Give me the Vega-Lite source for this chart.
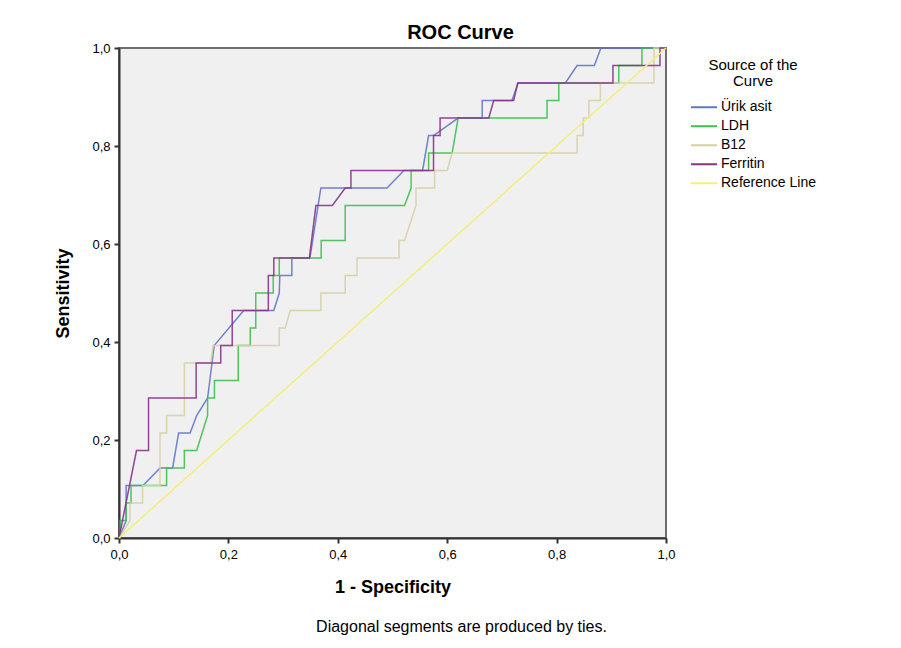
{
  "$schema": "https://vega.github.io/schema/vega-lite/v6.json",
  "width": 547,
  "height": 490,
  "autosize": {"type": "none"},
  "padding": {"left": 119, "top": 48, "right": 235, "bottom": 110},
  "background": "white",
  "config": {
    "font": "Liberation Sans",
    "view": {"fill": "#f0f0f0", "stroke": "#6e6e6e", "strokeWidth": 2}
  },
  "title": {
    "text": "ROC Curve",
    "fontSize": 20,
    "fontWeight": "bold",
    "color": "#000000",
    "anchor": "middle",
    "dx": 68,
    "offset": -1
  },
  "data": {
    "values": [
      {"curve": "Ürik asit", "i": 0, "fpr": 0, "tpr": 0},
      {"curve": "Ürik asit", "i": 1, "fpr": 0.013, "tpr": 0.0357},
      {"curve": "Ürik asit", "i": 2, "fpr": 0.013, "tpr": 0.1071},
      {"curve": "Ürik asit", "i": 3, "fpr": 0.044, "tpr": 0.1071},
      {"curve": "Ürik asit", "i": 4, "fpr": 0.075, "tpr": 0.1429},
      {"curve": "Ürik asit", "i": 5, "fpr": 0.098, "tpr": 0.1429},
      {"curve": "Ürik asit", "i": 6, "fpr": 0.109, "tpr": 0.2143},
      {"curve": "Ürik asit", "i": 7, "fpr": 0.130, "tpr": 0.2143},
      {"curve": "Ürik asit", "i": 8, "fpr": 0.142, "tpr": 0.25},
      {"curve": "Ürik asit", "i": 9, "fpr": 0.162, "tpr": 0.2857},
      {"curve": "Ürik asit", "i": 10, "fpr": 0.166, "tpr": 0.3214},
      {"curve": "Ürik asit", "i": 11, "fpr": 0.174, "tpr": 0.3929},
      {"curve": "Ürik asit", "i": 12, "fpr": 0.228, "tpr": 0.4643},
      {"curve": "Ürik asit", "i": 13, "fpr": 0.283, "tpr": 0.4643},
      {"curve": "Ürik asit", "i": 14, "fpr": 0.293, "tpr": 0.5},
      {"curve": "Ürik asit", "i": 15, "fpr": 0.294, "tpr": 0.5357},
      {"curve": "Ürik asit", "i": 16, "fpr": 0.316, "tpr": 0.5357},
      {"curve": "Ürik asit", "i": 17, "fpr": 0.316, "tpr": 0.5714},
      {"curve": "Ürik asit", "i": 18, "fpr": 0.349, "tpr": 0.5714},
      {"curve": "Ürik asit", "i": 19, "fpr": 0.369, "tpr": 0.7143},
      {"curve": "Ürik asit", "i": 20, "fpr": 0.49, "tpr": 0.7143},
      {"curve": "Ürik asit", "i": 21, "fpr": 0.521, "tpr": 0.75},
      {"curve": "Ürik asit", "i": 22, "fpr": 0.555, "tpr": 0.75},
      {"curve": "Ürik asit", "i": 23, "fpr": 0.566, "tpr": 0.8214},
      {"curve": "Ürik asit", "i": 24, "fpr": 0.575, "tpr": 0.8214},
      {"curve": "Ürik asit", "i": 25, "fpr": 0.62, "tpr": 0.8571},
      {"curve": "Ürik asit", "i": 26, "fpr": 0.664, "tpr": 0.8571},
      {"curve": "Ürik asit", "i": 27, "fpr": 0.664, "tpr": 0.8929},
      {"curve": "Ürik asit", "i": 28, "fpr": 0.7185, "tpr": 0.8929},
      {"curve": "Ürik asit", "i": 29, "fpr": 0.7295, "tpr": 0.9286},
      {"curve": "Ürik asit", "i": 30, "fpr": 0.816, "tpr": 0.9286},
      {"curve": "Ürik asit", "i": 31, "fpr": 0.8375, "tpr": 0.9643},
      {"curve": "Ürik asit", "i": 32, "fpr": 0.869, "tpr": 0.9643},
      {"curve": "Ürik asit", "i": 33, "fpr": 0.881, "tpr": 1},
      {"curve": "Ürik asit", "i": 34, "fpr": 1, "tpr": 1},

      {"curve": "LDH", "i": 0, "fpr": 0, "tpr": 0},
      {"curve": "LDH", "i": 1, "fpr": 0.002, "tpr": 0},
      {"curve": "LDH", "i": 2, "fpr": 0.002, "tpr": 0.0357},
      {"curve": "LDH", "i": 3, "fpr": 0.013, "tpr": 0.0357},
      {"curve": "LDH", "i": 4, "fpr": 0.013, "tpr": 0.0714},
      {"curve": "LDH", "i": 5, "fpr": 0.022, "tpr": 0.0714},
      {"curve": "LDH", "i": 6, "fpr": 0.022, "tpr": 0.1071},
      {"curve": "LDH", "i": 7, "fpr": 0.087, "tpr": 0.1071},
      {"curve": "LDH", "i": 8, "fpr": 0.087, "tpr": 0.1429},
      {"curve": "LDH", "i": 9, "fpr": 0.1195, "tpr": 0.1429},
      {"curve": "LDH", "i": 10, "fpr": 0.1195, "tpr": 0.1786},
      {"curve": "LDH", "i": 11, "fpr": 0.142, "tpr": 0.1786},
      {"curve": "LDH", "i": 12, "fpr": 0.162, "tpr": 0.25},
      {"curve": "LDH", "i": 13, "fpr": 0.162, "tpr": 0.2857},
      {"curve": "LDH", "i": 14, "fpr": 0.1745, "tpr": 0.2857},
      {"curve": "LDH", "i": 15, "fpr": 0.1745, "tpr": 0.3214},
      {"curve": "LDH", "i": 16, "fpr": 0.218, "tpr": 0.3214},
      {"curve": "LDH", "i": 17, "fpr": 0.218, "tpr": 0.3929},
      {"curve": "LDH", "i": 18, "fpr": 0.24, "tpr": 0.3929},
      {"curve": "LDH", "i": 19, "fpr": 0.24, "tpr": 0.4286},
      {"curve": "LDH", "i": 20, "fpr": 0.25, "tpr": 0.4286},
      {"curve": "LDH", "i": 21, "fpr": 0.25, "tpr": 0.5},
      {"curve": "LDH", "i": 22, "fpr": 0.282, "tpr": 0.5},
      {"curve": "LDH", "i": 23, "fpr": 0.282, "tpr": 0.5357},
      {"curve": "LDH", "i": 24, "fpr": 0.293, "tpr": 0.5357},
      {"curve": "LDH", "i": 25, "fpr": 0.293, "tpr": 0.5714},
      {"curve": "LDH", "i": 26, "fpr": 0.3696, "tpr": 0.5714},
      {"curve": "LDH", "i": 27, "fpr": 0.3696, "tpr": 0.6071},
      {"curve": "LDH", "i": 28, "fpr": 0.4135, "tpr": 0.6071},
      {"curve": "LDH", "i": 29, "fpr": 0.4135, "tpr": 0.6786},
      {"curve": "LDH", "i": 30, "fpr": 0.522, "tpr": 0.6786},
      {"curve": "LDH", "i": 31, "fpr": 0.534, "tpr": 0.7143},
      {"curve": "LDH", "i": 32, "fpr": 0.534, "tpr": 0.75},
      {"curve": "LDH", "i": 33, "fpr": 0.566, "tpr": 0.75},
      {"curve": "LDH", "i": 34, "fpr": 0.566, "tpr": 0.7857},
      {"curve": "LDH", "i": 35, "fpr": 0.609, "tpr": 0.7857},
      {"curve": "LDH", "i": 36, "fpr": 0.62, "tpr": 0.8571},
      {"curve": "LDH", "i": 37, "fpr": 0.7825, "tpr": 0.8571},
      {"curve": "LDH", "i": 38, "fpr": 0.7825, "tpr": 0.8929},
      {"curve": "LDH", "i": 39, "fpr": 0.804, "tpr": 0.8929},
      {"curve": "LDH", "i": 40, "fpr": 0.804, "tpr": 0.9286},
      {"curve": "LDH", "i": 41, "fpr": 0.9137, "tpr": 0.9286},
      {"curve": "LDH", "i": 42, "fpr": 0.9137, "tpr": 0.9643},
      {"curve": "LDH", "i": 43, "fpr": 0.956, "tpr": 0.9643},
      {"curve": "LDH", "i": 44, "fpr": 0.956, "tpr": 1},
      {"curve": "LDH", "i": 45, "fpr": 1, "tpr": 1},

      {"curve": "B12", "i": 0, "fpr": 0, "tpr": 0},
      {"curve": "B12", "i": 1, "fpr": 0.02, "tpr": 0.0357},
      {"curve": "B12", "i": 2, "fpr": 0.02, "tpr": 0.0714},
      {"curve": "B12", "i": 3, "fpr": 0.043, "tpr": 0.0714},
      {"curve": "B12", "i": 4, "fpr": 0.043, "tpr": 0.1071},
      {"curve": "B12", "i": 5, "fpr": 0.075, "tpr": 0.1071},
      {"curve": "B12", "i": 6, "fpr": 0.075, "tpr": 0.2143},
      {"curve": "B12", "i": 7, "fpr": 0.087, "tpr": 0.2143},
      {"curve": "B12", "i": 8, "fpr": 0.087, "tpr": 0.25},
      {"curve": "B12", "i": 9, "fpr": 0.1195, "tpr": 0.25},
      {"curve": "B12", "i": 10, "fpr": 0.1195, "tpr": 0.3571},
      {"curve": "B12", "i": 11, "fpr": 0.168, "tpr": 0.3571},
      {"curve": "B12", "i": 12, "fpr": 0.172, "tpr": 0.3929},
      {"curve": "B12", "i": 13, "fpr": 0.293, "tpr": 0.3929},
      {"curve": "B12", "i": 14, "fpr": 0.293, "tpr": 0.4286},
      {"curve": "B12", "i": 15, "fpr": 0.304, "tpr": 0.4286},
      {"curve": "B12", "i": 16, "fpr": 0.313, "tpr": 0.4643},
      {"curve": "B12", "i": 17, "fpr": 0.369, "tpr": 0.4643},
      {"curve": "B12", "i": 18, "fpr": 0.369, "tpr": 0.5},
      {"curve": "B12", "i": 19, "fpr": 0.4135, "tpr": 0.5},
      {"curve": "B12", "i": 20, "fpr": 0.4135, "tpr": 0.5357},
      {"curve": "B12", "i": 21, "fpr": 0.435, "tpr": 0.5357},
      {"curve": "B12", "i": 22, "fpr": 0.435, "tpr": 0.5714},
      {"curve": "B12", "i": 23, "fpr": 0.512, "tpr": 0.5714},
      {"curve": "B12", "i": 24, "fpr": 0.512, "tpr": 0.6071},
      {"curve": "B12", "i": 25, "fpr": 0.522, "tpr": 0.6071},
      {"curve": "B12", "i": 26, "fpr": 0.543, "tpr": 0.6786},
      {"curve": "B12", "i": 27, "fpr": 0.543, "tpr": 0.7143},
      {"curve": "B12", "i": 28, "fpr": 0.577, "tpr": 0.7143},
      {"curve": "B12", "i": 29, "fpr": 0.577, "tpr": 0.75},
      {"curve": "B12", "i": 30, "fpr": 0.6, "tpr": 0.75},
      {"curve": "B12", "i": 31, "fpr": 0.609, "tpr": 0.7857},
      {"curve": "B12", "i": 32, "fpr": 0.8375, "tpr": 0.7857},
      {"curve": "B12", "i": 33, "fpr": 0.8375, "tpr": 0.8214},
      {"curve": "B12", "i": 34, "fpr": 0.8485, "tpr": 0.8214},
      {"curve": "B12", "i": 35, "fpr": 0.8485, "tpr": 0.8571},
      {"curve": "B12", "i": 36, "fpr": 0.859, "tpr": 0.8571},
      {"curve": "B12", "i": 37, "fpr": 0.859, "tpr": 0.8929},
      {"curve": "B12", "i": 38, "fpr": 0.88, "tpr": 0.8929},
      {"curve": "B12", "i": 39, "fpr": 0.88, "tpr": 0.9286},
      {"curve": "B12", "i": 40, "fpr": 0.978, "tpr": 0.9286},
      {"curve": "B12", "i": 41, "fpr": 0.978, "tpr": 1},
      {"curve": "B12", "i": 42, "fpr": 1, "tpr": 1},

      {"curve": "Ferritin", "i": 0, "fpr": 0, "tpr": 0},
      {"curve": "Ferritin", "i": 1, "fpr": 0.032, "tpr": 0.1786},
      {"curve": "Ferritin", "i": 2, "fpr": 0.054, "tpr": 0.1786},
      {"curve": "Ferritin", "i": 3, "fpr": 0.054, "tpr": 0.2857},
      {"curve": "Ferritin", "i": 4, "fpr": 0.141, "tpr": 0.2857},
      {"curve": "Ferritin", "i": 5, "fpr": 0.141, "tpr": 0.3571},
      {"curve": "Ferritin", "i": 6, "fpr": 0.186, "tpr": 0.3571},
      {"curve": "Ferritin", "i": 7, "fpr": 0.186, "tpr": 0.3929},
      {"curve": "Ferritin", "i": 8, "fpr": 0.207, "tpr": 0.3929},
      {"curve": "Ferritin", "i": 9, "fpr": 0.207, "tpr": 0.4643},
      {"curve": "Ferritin", "i": 10, "fpr": 0.273, "tpr": 0.4643},
      {"curve": "Ferritin", "i": 11, "fpr": 0.273, "tpr": 0.5357},
      {"curve": "Ferritin", "i": 12, "fpr": 0.283, "tpr": 0.5357},
      {"curve": "Ferritin", "i": 13, "fpr": 0.283, "tpr": 0.5714},
      {"curve": "Ferritin", "i": 14, "fpr": 0.348, "tpr": 0.5714},
      {"curve": "Ferritin", "i": 15, "fpr": 0.36, "tpr": 0.6786},
      {"curve": "Ferritin", "i": 16, "fpr": 0.39, "tpr": 0.6786},
      {"curve": "Ferritin", "i": 17, "fpr": 0.4135, "tpr": 0.7143},
      {"curve": "Ferritin", "i": 18, "fpr": 0.424, "tpr": 0.7143},
      {"curve": "Ferritin", "i": 19, "fpr": 0.424, "tpr": 0.75},
      {"curve": "Ferritin", "i": 20, "fpr": 0.575, "tpr": 0.75},
      {"curve": "Ferritin", "i": 21, "fpr": 0.575, "tpr": 0.8214},
      {"curve": "Ferritin", "i": 22, "fpr": 0.587, "tpr": 0.8214},
      {"curve": "Ferritin", "i": 23, "fpr": 0.587, "tpr": 0.8571},
      {"curve": "Ferritin", "i": 24, "fpr": 0.676, "tpr": 0.8571},
      {"curve": "Ferritin", "i": 25, "fpr": 0.685, "tpr": 0.8929},
      {"curve": "Ferritin", "i": 26, "fpr": 0.7215, "tpr": 0.8929},
      {"curve": "Ferritin", "i": 27, "fpr": 0.729, "tpr": 0.9286},
      {"curve": "Ferritin", "i": 28, "fpr": 0.903, "tpr": 0.9286},
      {"curve": "Ferritin", "i": 29, "fpr": 0.903, "tpr": 0.9643},
      {"curve": "Ferritin", "i": 30, "fpr": 0.989, "tpr": 0.9643},
      {"curve": "Ferritin", "i": 31, "fpr": 0.989, "tpr": 1},
      {"curve": "Ferritin", "i": 32, "fpr": 1, "tpr": 1},

      {"curve": "Reference Line", "i": 0, "fpr": 0, "tpr": 0},
      {"curve": "Reference Line", "i": 1, "fpr": 1, "tpr": 1}
    ]
  },
  "encoding": {
    "y": {
      "field": "tpr",
      "type": "quantitative",
      "scale": {"domain": [0, 1], "nice": false},
      "axis": {
        "values": [0, 0.2, 0.4, 0.6, 0.8, 1],
        "labelExpr": "replace(format(datum.value, '.1f'), '.', ',')",
        "labelFlush": false,
        "title": "Sensitivity",
        "titleFontSize": 18,
        "titleFontWeight": "bold",
        "titleColor": "#000000",
        "titlePadding": 19,
        "labelFontSize": 13,
        "labelColor": "#000000",
        "labelPadding": 4,
        "tickSize": 5,
        "tickWidth": 2,
        "tickColor": "#333333",
        "domainColor": "#333333",
        "domainWidth": 2,
        "grid": false
      }
    },
    "color": {
      "field": "curve",
      "type": "nominal",
      "scale": {
        "domain": ["Ürik asit", "LDH", "B12", "Ferritin", "Reference Line"],
        "range": ["#6276c6", "#3dbf4e", "#d6d0a4", "#86338a", "#f4ef78"]
      },
      "legend": {
        "title": ["Source of the", "Curve"],
        "orient": "none",
        "legendX": 571,
        "legendY": 10,
        "padding": 0,
        "symbolType": "stroke",
        "symbolSize": 676,
        "symbolStrokeWidth": 2,
        "labelFontSize": 14,
        "labelColor": "#000000",
        "labelOffset": 3,
        "clipHeight": 18.5,
        "rowPadding": 0,
        "titleFontSize": 15,
        "titleFontWeight": "normal",
        "titleColor": "#000000",
        "titleAnchor": "middle",
        "titleAlign": "center",
        "titleLineHeight": 16,
        "titlePadding": 9
      }
    },
    "order": {"field": "i", "type": "quantitative"}
  },
  "layer": [
    {
      "transform": [{"filter": "datum.curve !== 'Reference Line'"}],
      "mark": {"type": "line", "strokeWidth": 1.5, "strokeOpacity": 0.9},
      "encoding": {
        "x": {
          "field": "fpr",
          "type": "quantitative",
          "scale": {"domain": [0, 1], "nice": false},
          "axis": {
            "values": [0, 0.2, 0.4, 0.6, 0.8, 1],
            "labelExpr": "replace(format(datum.value, '.1f'), '.', ',')",
            "labelFlush": false,
            "title": "1 - Specificity",
            "titleFontSize": 18,
            "titleFontWeight": "bold",
            "titleColor": "#000000",
            "titlePadding": 17,
            "labelFontSize": 13,
            "labelColor": "#000000",
            "labelPadding": 5,
            "tickSize": 5,
            "tickWidth": 2,
            "tickColor": "#333333",
            "domainColor": "#333333",
            "domainWidth": 2,
            "grid": false
          }
        }
      }
    },
    {
      "transform": [{"filter": "datum.curve === 'Reference Line'"}],
      "mark": {"type": "line", "strokeWidth": 1.5},
      "encoding": {
        "x": {
          "field": "fpr",
          "type": "quantitative",
          "scale": {"domain": [0, 1], "nice": false},
          "axis": {
            "orient": "bottom",
            "labels": false,
            "ticks": false,
            "domain": false,
            "grid": false,
            "title": "Diagonal segments are produced by ties.",
            "titleFontSize": 16,
            "titleFontWeight": "normal",
            "titleColor": "#000000",
            "titlePadding": 80,
            "titleX": 342
          }
        }
      }
    }
  ],
  "resolve": {"axis": {"x": "independent"}}
}
